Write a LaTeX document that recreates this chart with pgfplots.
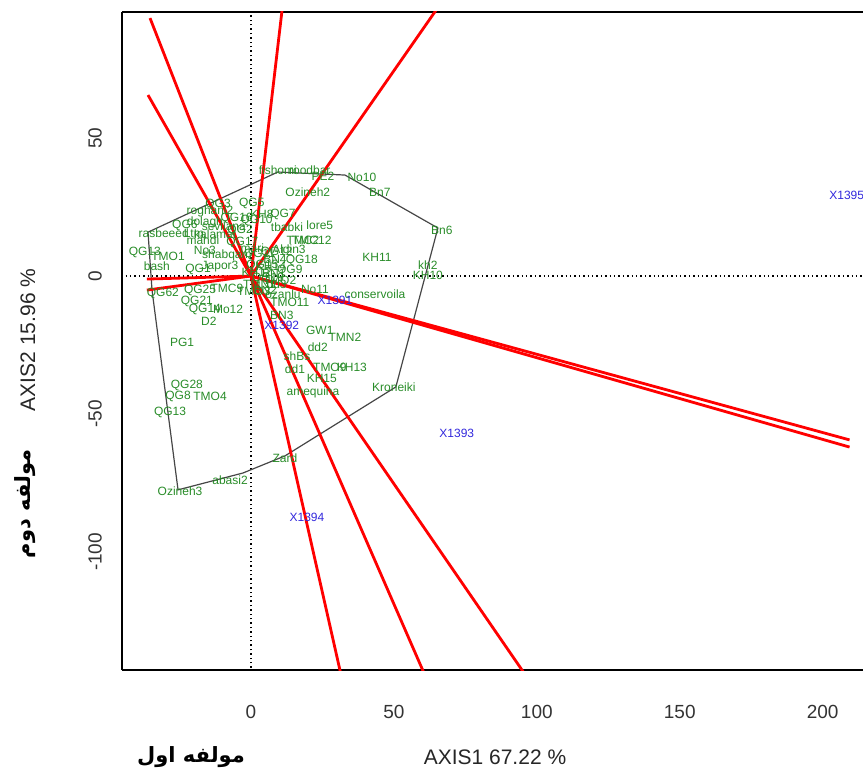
\documentclass[border=0pt]{standalone}
\usepackage{fontspec}
\setmainfont{Liberation Sans}
\newfontfamily\arabicfont[Script=Arabic]{DejaVu Sans}
\TeXXeTstate=1
\usepackage{pgfplots}
\pgfplotsset{compat=1.18}
\usepackage{pgfplotstable}
\definecolor{lblgreen}{RGB}{40,140,40}
\definecolor{lblblue}{RGB}{50,40,220}
\definecolor{polyg}{RGB}{70,70,70}

\pgfplotstableread{
x y label
9.4 38.4 fishomi
20.6 38.4 roodbar
25.2 36.2 PE2
38.8 35.9 No10
45.1 30.4 Bn7
66.8 16.7 Bn6
19.9 30.4 Ozineh2
0.3 26.4 QG5
-11.5 26.1 QG3
-14.3 23.6 roghani2
3.8 22.5 KH8
11.2 22.5 QG7
12.6 17.8 tbabki
24.1 18.5 lore5
18.2 13.0 TMC2
21.3 13.0 TMC12
44.1 6.9 KH11
13.3 9.8 Aldin3
8.4 6.2 BN4
17.8 5.8 QG18
13.6 2.2 QG9
61.9 4.0 kh2
61.9 0.4 KH10
43.4 -6.5 conservoila
22.4 -4.7 No11
11.2 -6.5 ozanlu
13.6 -9.4 TMO11
10.8 -14.1 BN3
24.1 -19.6 GW1
32.9 -22.1 TMN2
23.4 -25.7 dd2
16.1 -29.0 shBs
27.6 -33.0 TMO9
35.3 -33.0 KH13
15.4 -33.7 dd1
24.8 -37.0 KH15
21.7 -42.0 amequina
50.0 -40.2 Kroneiki
11.9 -65.9 Zard
-7.3 -73.9 abasi2
-24.8 -77.9 Ozineh3
-37.1 8.7 QG13
-32.9 3.6 bash
-29.0 7.2 TMO1
-16.1 9.4 No3
-8.4 7.6 shabqam
-18.5 2.5 QG1
-10.8 3.6 Japor3
-30.5 15.6 rasbeeed
-20.0 15.6 Ltm
-16.8 13.0 mahdi
-3.8 16.7 QG2
-16.1 19.6 dolagh
-23.1 18.5 QG6
-9.5 18.0 sevilana
-12.5 15.0 kalamat
-5.0 21.0 QG16
2.0 20.0 QG10
-3.0 12.0 QG17
0.5 10.0 mari
-30.8 -6.2 QG62
-17.8 -5.1 QG25
-8.4 -4.3 TMC9
-18.9 -9.1 QG21
-16.1 -12.0 QG14
-8.0 -12.0 Mo12
-14.7 -16.3 D2
-24.1 -23.9 PG1
-22.4 -39.5 QG28
-25.5 -43.5 QG8
-14.3 -43.5 TMO4
-28.3 -49.6 QG13
4.0 4.0 QG15
6.0 -1.0 QG19
3.0 -3.0 TMN1
8.0 1.0 BN1
5.0 -5.0 BN2
9.0 -3.0 dd3
2.0 1.5 KH12
7.0 3.5 KH14
10.0 -1.5 TMO2
1.0 -5.5 TMO3
3.0 8.0 QG11
9.0 8.5 QG12
}\greenlabels

\pgfplotstableread{
x y label
29.4 -8.7 X1391
10.8 -17.8 X1392
72.0 -57.2 X1393
19.6 -87.3 X1394
208.4 29.3 X1395
}\bluelabels

\begin{document}
\begin{tikzpicture}
\begin{axis}[name=ax, scale only axis, width=370.5pt, height=329pt,
  xmin=-45.1, xmax=214.1, ymin=-142.8, ymax=95.7,
  axis x line*=box, axis y line*=left,
  xtick={0,50,100,150,200}, ytick={-100,-50,0,50},
  xticklabel pos=lower, yticklabel pos=left,
  major tick length=0pt,
  xticklabel shift=14pt, yticklabel shift=6.5pt,
  yticklabel style={rotate=90, anchor=south},
  xticklabel style={anchor=north},
  tick label style={font=\fontsize{9.5}{11}\selectfont, text=black!80},
  /pgf/number format/assume math mode=true,
  axis line style={black, line width=0.6pt},
  clip=true,
]
% dotted reference lines
\addplot[black, line width=0.7pt, dash pattern=on 0.7pt off 1.5pt] coordinates {(0,-150) (0,100)};
\addplot[black, line width=0.7pt, dash pattern=on 0.7pt off 1.5pt] coordinates {(-50,0) (220,0)};
% polygon
\addplot[polyg, line width=0.6pt] coordinates {(-36.0,15.9) (9.4,37.7) (32.9,36.6) (65.4,17.4) (50.7,-40.2) (11.9,-65.2) (-2.8,-71.4) (-25.5,-77.5) (-34.6,-5.1) (-36.0,15.9)};
% rays
\addplot[red, line width=1.4pt] coordinates {(0,0) (-35.3,93.5)};
\addplot[red, line width=1.4pt] coordinates {(0,0) (-36.0,65.6)};
\addplot[red, line width=1.4pt] coordinates {(0,0) (-36.4,-1.1)};
\addplot[red, line width=1.4pt] coordinates {(0,0) (-36.4,-5.1)};
\addplot[red, line width=1.4pt] coordinates {(0,0) (11.3,100.0)};
\addplot[red, line width=1.4pt] coordinates {(0,0) (67.2,100.0)};
\addplot[red, line width=1.4pt] coordinates {(0,0) (209.4,-59.4)};
\addplot[red, line width=1.4pt] coordinates {(0,0) (209.4,-62.0)};
\addplot[red, line width=1.4pt] coordinates {(0,0) (32.7,-150.0)};
\addplot[red, line width=1.4pt] coordinates {(0,0) (63.1,-150.0)};
\addplot[red, line width=1.4pt] coordinates {(0,0) (99.6,-150.0)};
% labels
\addplot[draw=none, nodes near coords, point meta=explicit symbolic,
  nodes near coords style={anchor=center, inner sep=0pt, font=\fontsize{6}{7}\selectfont, text=lblgreen}]
  table[x=x, y=y, meta=label] {\greenlabels};
\addplot[draw=none, nodes near coords, point meta=explicit symbolic,
  nodes near coords style={anchor=center, inner sep=0pt, font=\fontsize{6}{7}\selectfont, text=lblblue}]
  table[x=x, y=y, meta=label] {\bluelabels};
\end{axis}
\node[font=\fontsize{10.5}{12}\selectfont, text=black!85] at ([shift={(186.5pt,-43.5pt)}]ax.south west) {AXIS1 67.22 \%};
\node[rotate=90, font=\fontsize{10.5}{12}\selectfont, text=black!85] at ([shift={(-47pt,165pt)}]ax.south west) {AXIS2 15.96 \%};
\node[font=\arabicfont\bfseries\fontsize{10.5}{13}\selectfont] at ([shift={(34.5pt,-43.5pt)}]ax.south west) {\beginR مولفه اول\endR};
\node[rotate=90, font=\arabicfont\bfseries\fontsize{10.5}{13}\selectfont] at ([shift={(-48.5pt,83pt)}]ax.south west) {\beginR مولفه دوم\endR};
\pgfresetboundingbox
\path[use as bounding box] ([shift={(-61pt,-51.5pt)}]ax.south west) rectangle ([shift={(370.5pt,335pt)}]ax.south west);
\end{tikzpicture}
\end{document}
